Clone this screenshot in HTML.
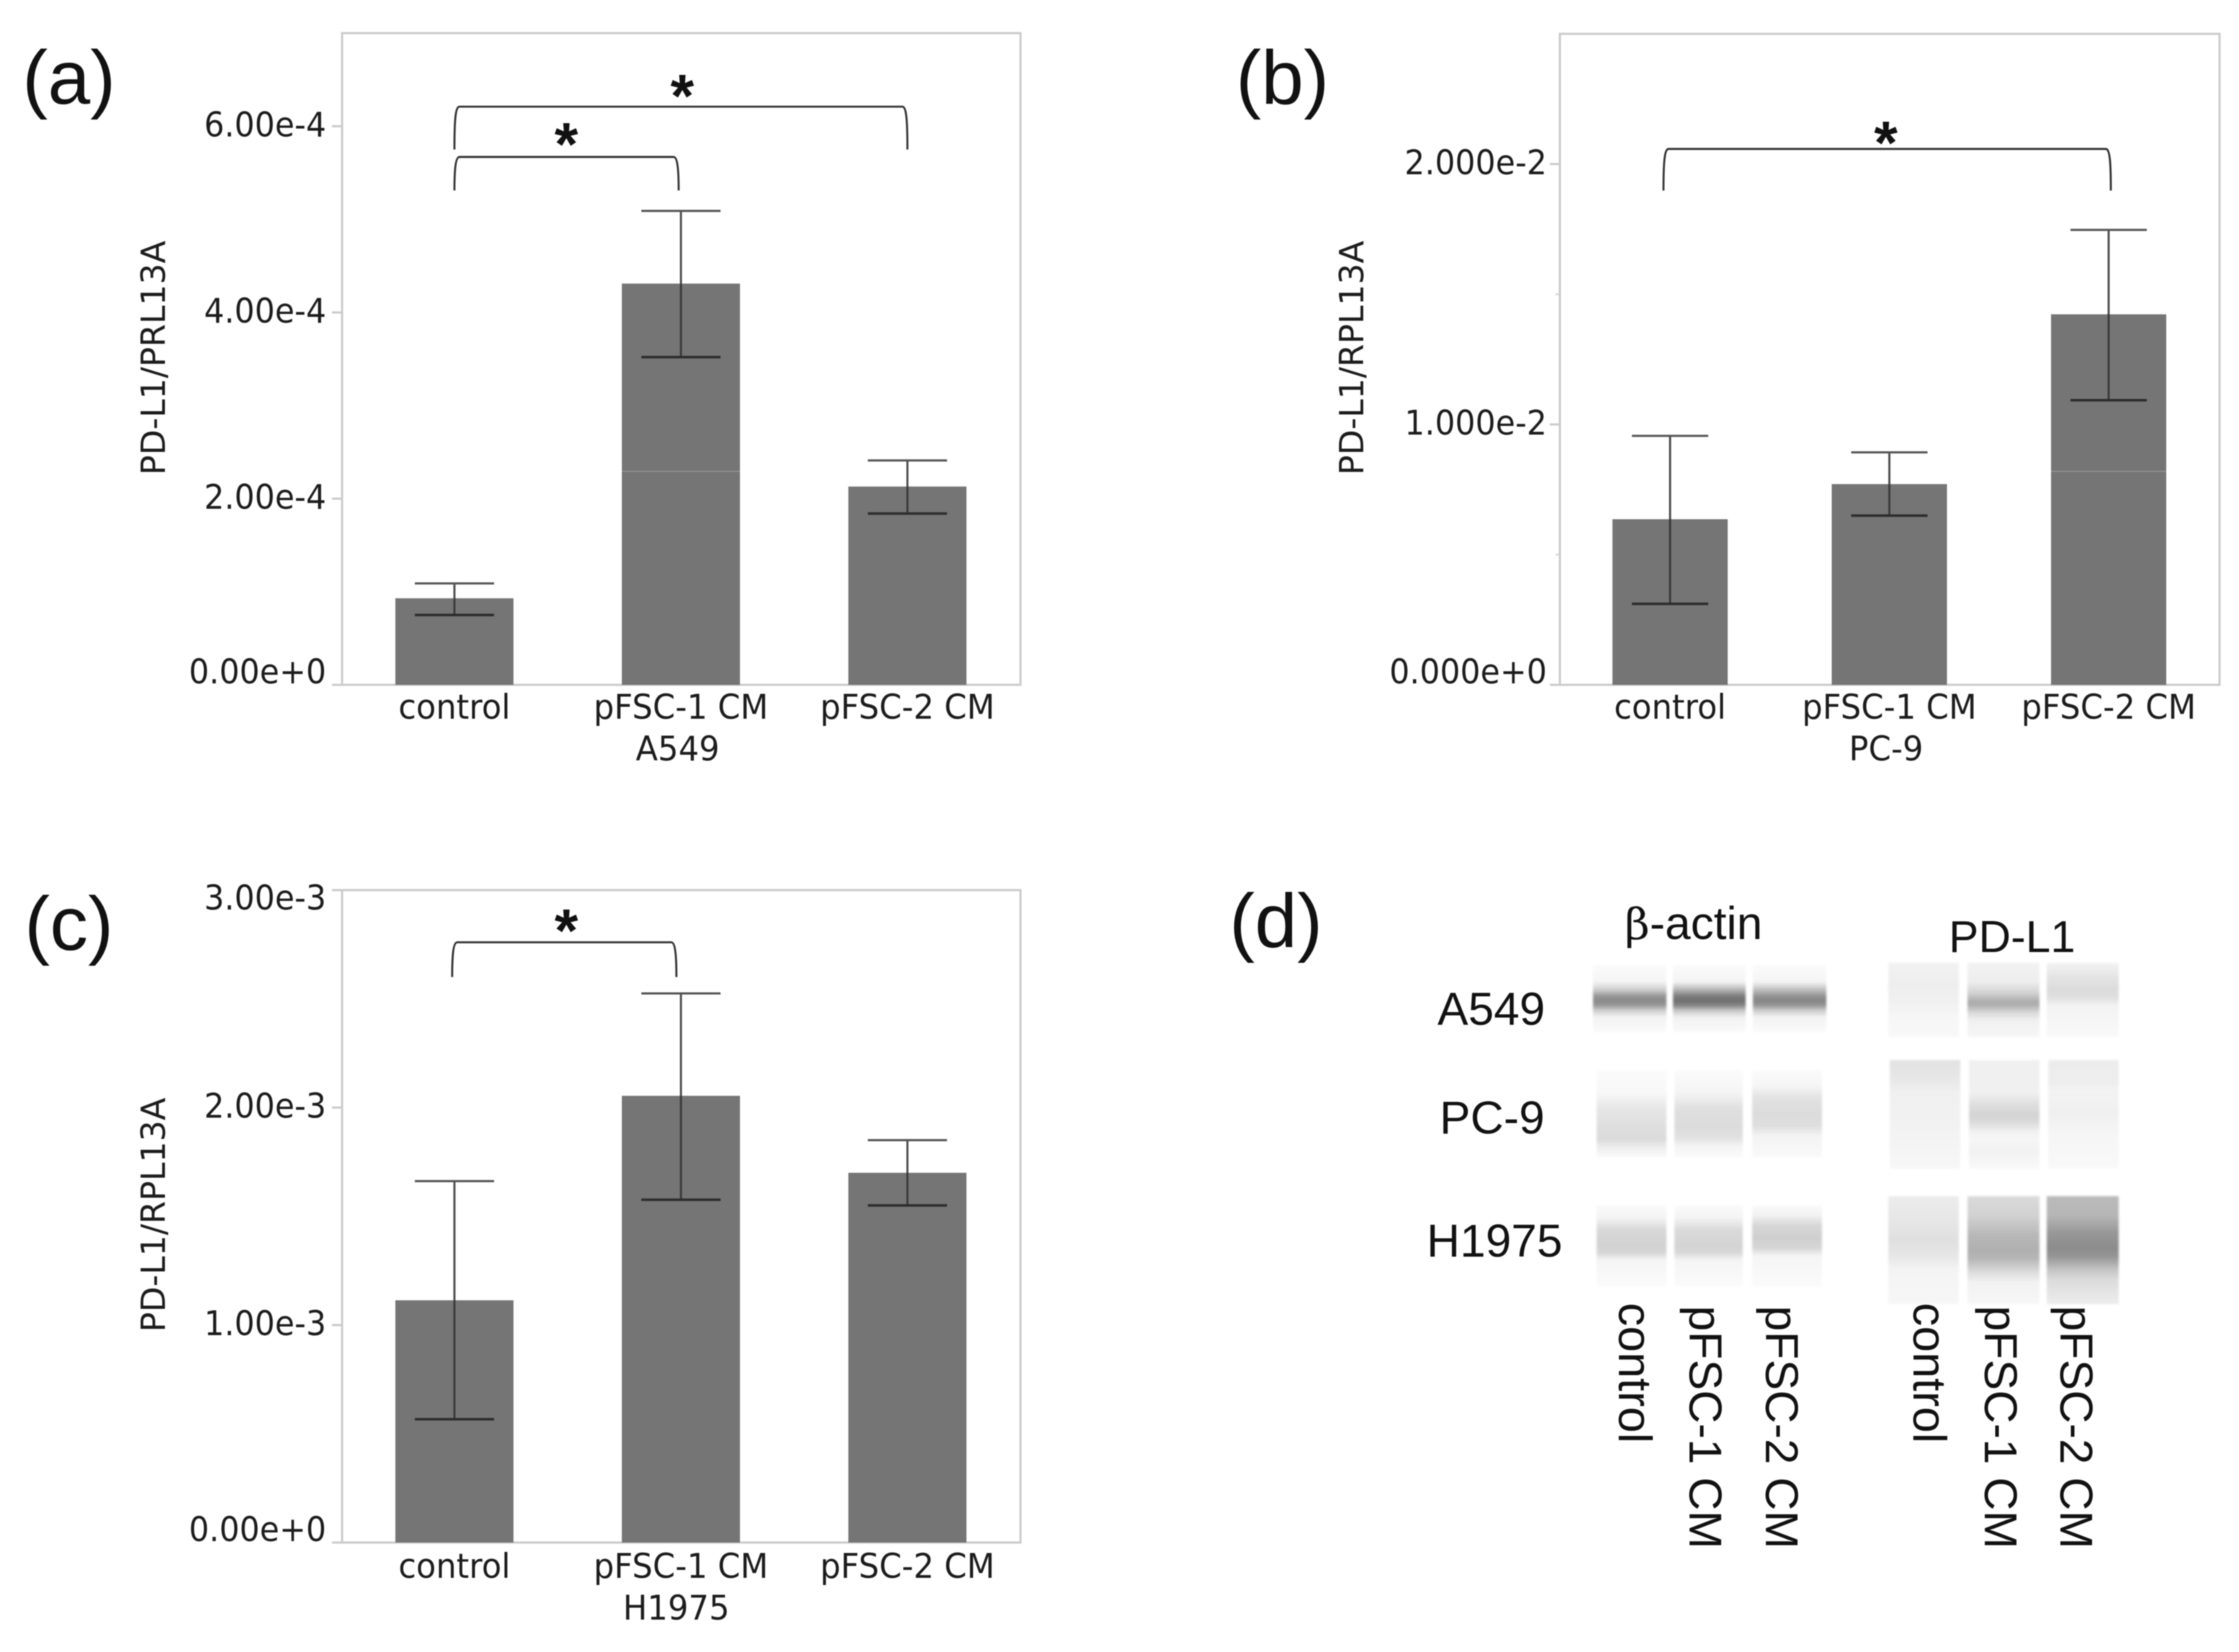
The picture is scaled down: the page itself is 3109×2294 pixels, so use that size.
<!DOCTYPE html>
<html lang="en">
<head>
<meta charset="utf-8">
<title>PD-L1 expression figure</title>
<style>
html,body{margin:0;padding:0;background:#fff;}
#figure{position:relative;width:3109px;height:2294px;overflow:hidden;background:#fff;}
#charts{position:absolute;left:0;top:0;filter:blur(0.7px);}
.lane{position:absolute;filter:blur(1.5px);}
.big{font-family:"Liberation Sans",sans-serif;fill:#111;}
</style>
</head>
<body>
<div id="figure">

<!-- beta-actin lanes -->
<div class="lane" style="left:2212px;top:1340px;width:102px;height:93px;background:linear-gradient(#fbfbfb 0%,#f5f5f5 25%,#cacaca 38%,#989898 46%,#8a8a8a 53%,#989898 60%,#cfcfcf 68%,#f3f3f3 78%,#fafafa 100%)"></div>
<div class="lane" style="left:2323px;top:1340px;width:101px;height:93px;background:linear-gradient(#fbfbfb 0%,#f4f4f4 25%,#bbb 36%,#7e7e7e 46%,#707070 53%,#848484 60%,#c8c8c8 68%,#f1f1f1 78%,#fafafa 100%)"></div>
<div class="lane" style="left:2434px;top:1340px;width:102px;height:93px;background:linear-gradient(#fbfbfb 0%,#f5f5f5 25%,#c4c4c4 36%,#959595 46%,#858585 53%,#969696 60%,#cdcdcd 68%,#f3f3f3 78%,#fafafa 100%)"></div>

<div class="lane" style="left:2217px;top:1486px;width:97px;height:121px;background:linear-gradient(#fbfbfb 0%,#f8f8f8 25%,#e6e6e6 45%,#dedede 66%,#dcdcdc 80%,#f0f0f0 90%,#fafafa 100%)"></div>
<div class="lane" style="left:2325px;top:1486px;width:95px;height:121px;background:linear-gradient(#fbfbfb 0%,#f5f5f5 25%,#dfdfdf 45%,#dcdcdc 65%,#e2e2e2 78%,#f5f5f5 88%,#fafafa 100%)"></div>
<div class="lane" style="left:2433px;top:1486px;width:97px;height:121px;background:linear-gradient(#fbfbfb 0%,#f6f6f6 18%,#e2e2e2 32%,#dcdcdc 50%,#dedede 64%,#f3f3f3 75%,#fafafa 100%)"></div>

<div class="lane" style="left:2217px;top:1674px;width:97px;height:113px;background:linear-gradient(#fafafa 0%,#f4f4f4 15%,#d8d8d8 30%,#d2d2d2 50%,#d6d6d6 58%,#f5f5f5 67%,#fbfbfb 100%)"></div>
<div class="lane" style="left:2325px;top:1674px;width:95px;height:113px;background:linear-gradient(#fafafa 0%,#f4f4f4 15%,#dadada 30%,#d4d4d4 50%,#d8d8d8 58%,#f5f5f5 67%,#fbfbfb 100%)"></div>
<div class="lane" style="left:2433px;top:1674px;width:97px;height:113px;background:linear-gradient(#fafafa 0%,#f2f2f2 12%,#d6d6d6 25%,#cfcfcf 40%,#d6d6d6 52%,#f5f5f5 62%,#fbfbfb 100%)"></div>

<!-- PD-L1 lanes -->
<div class="lane" style="left:2622px;top:1337px;width:98px;height:103px;background:linear-gradient(#f2f2f2 0%,#eeeeee 30%,#f0f0f0 50%,#f7f7f7 75%,#f8f8f8 100%)"></div>
<div class="lane" style="left:2732px;top:1337px;width:100px;height:103px;background:linear-gradient(#f2f2f2 0%,#eeeeee 25%,#d4d4d4 40%,#aeaeae 52%,#acacac 56%,#dcdcdc 68%,#f1f1f1 78%,#f6f6f6 100%)"></div>
<div class="lane" style="left:2842px;top:1337px;width:100px;height:103px;background:linear-gradient(#f3f3f3 0%,#e4e4e4 20%,#dbdbdb 36%,#dfdfdf 46%,#f3f3f3 58%,#f9f9f9 100%)"></div>

<div class="lane" style="left:2624px;top:1472px;width:98px;height:151px;background:linear-gradient(#e2e2e2 0%,#e6e6e6 15%,#f0f0f0 30%,#f2f2f2 60%,#f7f7f7 100%)"></div>
<div class="lane" style="left:2734px;top:1472px;width:98px;height:151px;background:linear-gradient(#f0f0f0 0%,#f0f0f0 30%,#e0e0e0 40%,#d4d4d4 50%,#d8d8d8 56%,#f1f1f1 66%,#f6f6f6 72%,#f2f2f2 84%,#f9f9f9 100%)"></div>
<div class="lane" style="left:2844px;top:1472px;width:98px;height:151px;background:linear-gradient(#ececec 0%,#eeeeee 22%,#f3f3f3 28%,#f0f0f0 50%,#f6f6f6 70%,#f9f9f9 100%)"></div>

<div class="lane" style="left:2622px;top:1661px;width:98px;height:150px;background:linear-gradient(#ececec 0%,#e6e6e6 25%,#e0e0e0 40%,#e6e6e6 55%,#f4f4f4 68%,#f7f7f7 100%)"></div>
<div class="lane" style="left:2732px;top:1661px;width:100px;height:150px;background:linear-gradient(#dadada 0%,#d2d2d2 18%,#b8b8b8 36%,#b0b0b0 50%,#b6b6b6 58%,#dcdcdc 70%,#f2f2f2 80%,#f7f7f7 100%)"></div>
<div class="lane" style="left:2842px;top:1661px;width:100px;height:150px;background:linear-gradient(#bbbbbb 0%,#b6b6b6 18%,#989898 34%,#8c8c8c 48%,#959595 56%,#c4c4c4 68%,#dcdcdc 78%,#ededed 100%)"></div>

<svg id="charts" xmlns="http://www.w3.org/2000/svg" width="3109" height="2294" viewBox="0 0 3109 2294">
  <text class="big" x="31" y="144" font-size="106">(a)</text>
  <text class="big" x="1716" y="144" font-size="106">(b)</text>
  <text class="big" x="34" y="1319" font-size="106">(c)</text>
  <text class="big" x="1707" y="1315" font-size="106">(d)</text>

  <text class="big" x="2256" y="1304" font-size="64"><tspan font-family="'DejaVu Serif','Liberation Serif',serif" font-size="60">β</tspan>-actin</text>
  <text class="big" x="2706" y="1322" font-size="62">PD-L1</text>
  <text class="big" x="1996" y="1423" font-size="64">A549</text>
  <text class="big" x="1999" y="1574" font-size="64">PC-9</text>
  <text class="big" x="1981" y="1745" font-size="64">H1975</text>

  <text class="big" font-size="65" transform="translate(2248 1809) rotate(90)">control</text>
  <text class="big" font-size="64" transform="translate(2346 1813) rotate(90)">pFSC-1 CM</text>
  <text class="big" font-size="64" transform="translate(2452 1813) rotate(90)">pFSC-2 CM</text>
  <text class="big" font-size="65" transform="translate(2657 1809) rotate(90)">control</text>
  <text class="big" font-size="64" transform="translate(2756 1813) rotate(90)">pFSC-1 CM</text>
  <text class="big" font-size="64" transform="translate(2861 1813) rotate(90)">pFSC-2 CM</text>
</svg>
</div>

<script>
const categories = ['control', 'pFSC-1 CM', 'pFSC-2 CM'];

const valuesA = [0.93e-4, 4.31e-4, 2.13e-4];
const upperA = [1.09e-4, 5.09e-4, 2.41e-4];
const lowerA = [0.75e-4, 3.52e-4, 1.84e-4];
const tickValuesA = [0, 2e-4, 4e-4, 6e-4];
const tickLabelsA = ['0.00e+0', '2.00e-4', '4.00e-4', '6.00e-4'];
const minorTicksA = [];
const bracketFromA = [0, 0];
const bracketToA = [2, 0.99];
const bracketTopA = [6.21e-4, 5.67e-4];
const bracketFootA = [5.75e-4, 5.31e-4];
const starCatA = [1.006, 0.494];
const starValueA = [6.42e-4, 5.90e-4];

const valuesB = [0.636e-2, 0.771e-2, 1.423e-2];
const upperB = [0.956e-2, 0.893e-2, 1.747e-2];
const lowerB = [0.311e-2, 0.650e-2, 1.093e-2];
const tickValuesB = [0, 1e-2, 2e-2];
const tickLabelsB = ['0.000e+0', '1.000e-2', '2.000e-2'];
const minorTicksB = [0.5e-2, 1.5e-2];
const bracketFromB = [-0.03];
const bracketToB = [2.01];
const bracketTopB = [2.058e-2];
const bracketFootB = [1.898e-2];
const starCatB = [0.984];
const starValueB = [2.116e-2];

const valuesC = [1.114e-3, 2.054e-3, 1.70e-3];
const upperC = [1.662e-3, 2.525e-3, 1.85e-3];
const lowerC = [0.567e-3, 1.576e-3, 1.55e-3];
const tickValuesC = [0, 1e-3, 2e-3, 3e-3];
const tickLabelsC = ['0.00e+0', '1.00e-3', '2.00e-3', '3.00e-3'];
const minorTicksC = [];
const bracketFromC = [-0.01];
const bracketToC = [0.98];
const bracketTopC = [2.76e-3];
const bracketFootC = [2.60e-3];
const starCatC = [0.494];
const starValueC = [2.854e-3];

const SVGNS = 'http://www.w3.org/2000/svg';
const canvas = document.getElementById('charts');

function make(tag, attrs, parent) {
  const el = document.createElementNS(SVGNS, tag);
  for (const k in attrs) el.setAttribute(k, attrs[k]);
  parent.appendChild(el);
  return el;
}
function label(parent, str, x, y, anchor, squeeze) {
  const el = make('text', {x: x, y: y, 'text-anchor': anchor, 'font-family': '"DejaVu Sans","Liberation Sans",sans-serif', 'font-size': 47, fill: '#1c1c1c'}, parent);
  el.textContent = str;
  el.setAttribute('textLength', (el.getComputedTextLength() * squeeze).toFixed(1));
  el.setAttribute('lengthAdjust', 'spacingAndGlyphs');
  return el;
}

function drawPanel(id, box, data) {
  const g = make('g', {}, canvas);
  
  

  const xScale = i => box.x0 + i * box.step;
  const yScale = v => box.bottom - (v / box.max) * (box.bottom - box.top);

  const frame = make('rect', {x: box.left, y: box.top, width: box.right - box.left, height: box.bottom - box.top, fill: 'none', stroke: '#cbcbcb', 'stroke-width': 3}, g);
  
  

  data.values.forEach((v, i) => {
    const bar = make('rect', {x: xScale(i) - box.barW / 2, y: yScale(v), width: box.barW, height: box.bottom - yScale(v), fill: '#757575'}, g);
    
    
  });

  if (box.seam) {
    const seam = make('rect', {x: box.left + 2, y: box.seam, width: box.right - box.left - 4, height: 1, fill: '#fff', opacity: 0.3}, g);
    
    
  }

  data.values.forEach((v, i) => {
    const cx = xScale(i);
    const up = yScale(data.upper[i]);
    const lo = yScale(data.lower[i]);
    const stem = make('line', {x1: cx, x2: cx, y1: up, y2: lo, stroke: '#333', 'stroke-width': 3, 'stroke-opacity': 0.85}, g);
    
    
    const capU = make('line', {x1: cx - box.cap, x2: cx + box.cap, y1: up, y2: up, stroke: '#555', 'stroke-width': 3}, g);
    
    
    const capL = make('line', {x1: cx - box.cap, x2: cx + box.cap, y1: lo, y2: lo, stroke: '#2c2c2c', 'stroke-width': 3.5}, g);
    
    
    const xl = label(g, categories[i], cx, box.xBase, 'middle', 0.955);
    
    
  });

  data.ticks.forEach((v, i) => {
    const y = yScale(v);
    const tick = make('line', {x1: box.left - 14, x2: box.left, y1: y, y2: y, stroke: '#cbcbcb', 'stroke-width': 3}, g);
    
    
    const cy = Math.max(box.top + 13, Math.min(box.bottom - 16, y));
    const tl = label(g, data.tickLabels[i], box.left - box.tickGap, cy + 14, 'end', 0.94);
    
    
  });

  data.minor.forEach((v, i) => {
    const y = yScale(v);
    const m = make('line', {x1: box.left - 6, x2: box.left, y1: y, y2: y, stroke: '#cfcfcf', 'stroke-width': 2}, g);
    
    
  });

  const sub = label(g, box.group, box.groupX, box.groupBase, 'middle', 0.955);
  
  

  const yt = make('text', {transform: 'translate(' + box.titleX + ' ' + box.titleY + ') rotate(-90)', 'text-anchor': 'middle', 'font-family': '"DejaVu Sans","Liberation Sans",sans-serif', 'font-size': 46, fill: '#1c1c1c'}, g);
  yt.textContent = box.title;
  
  

  data.bracketFrom.forEach((c, i) => {
    const a = xScale(c);
    const b = xScale(data.bracketTo[i]);
    const t = yScale(data.bracketTop[i]);
    const f = yScale(data.bracketFoot[i]);
    const d = 'M' + a + ' ' + f + ' C' + a + ' ' + (t + 22) + ' ' + (a + 1) + ' ' + t + ' ' + (a + 7) + ' ' + t +
              ' L' + (b - 7) + ' ' + t + ' C' + (b - 1) + ' ' + t + ' ' + b + ' ' + (t + 22) + ' ' + b + ' ' + f;
    const br = make('path', {d: d, fill: 'none', stroke: '#333', 'stroke-width': 2.8}, g);
    
    
  });

  data.starCat.forEach((c, i) => {
    const s = make('text', {x: xScale(c), y: yScale(data.starValue[i]) + 41, 'text-anchor': 'middle', 'font-family': '"Liberation Sans",sans-serif', 'font-size': 84, 'font-weight': 'bold', fill: '#111'}, g);
    s.textContent = '*';
    
    
  });
}

drawPanel('a',
  {x0: 631, step: 314.5, barW: 164, cap: 55, left: 475, right: 1417, top: 46, bottom: 951, max: 7e-4, xBase: 998, groupBase: 1056, tickGap: 22, seam: 654, group: 'A549', groupX: 941, title: 'PD-L1/PRL13A', titleX: 229, titleY: 497},
  {values: valuesA, upper: upperA, lower: lowerA, ticks: tickValuesA, tickLabels: tickLabelsA, minor: minorTicksA, bracketFrom: bracketFromA, bracketTo: bracketToA, bracketTop: bracketTopA, bracketFoot: bracketFootA, starCat: starCatA, starValue: starValueA});

drawPanel('b',
  {x0: 2319, step: 304.5, barW: 160, cap: 53, left: 2166, right: 3082, top: 47, bottom: 951, max: 2.5e-2, xBase: 998, groupBase: 1056, tickGap: 18, seam: 654, group: 'PC-9', groupX: 2619, title: 'PD-L1/RPL13A', titleX: 1893, titleY: 497},
  {values: valuesB, upper: upperB, lower: lowerB, ticks: tickValuesB, tickLabels: tickLabelsB, minor: minorTicksB, bracketFrom: bracketFromB, bracketTo: bracketToB, bracketTop: bracketTopB, bracketFoot: bracketFootB, starCat: starCatB, starValue: starValueB});

drawPanel('c',
  {x0: 631, step: 314.5, barW: 164, cap: 55, left: 475, right: 1417, top: 1236, bottom: 2142, max: 3e-3, xBase: 2191, groupBase: 2249, tickGap: 22, seam: 0, group: 'H1975', groupX: 939, title: 'PD-L1/RPL13A', titleX: 229, titleY: 1687},
  {values: valuesC, upper: upperC, lower: lowerC, ticks: tickValuesC, tickLabels: tickLabelsC, minor: minorTicksC, bracketFrom: bracketFromC, bracketTo: bracketToC, bracketTop: bracketTopC, bracketFoot: bracketFootC, starCat: starCatC, starValue: starValueC});
</script>
</body>
</html>
